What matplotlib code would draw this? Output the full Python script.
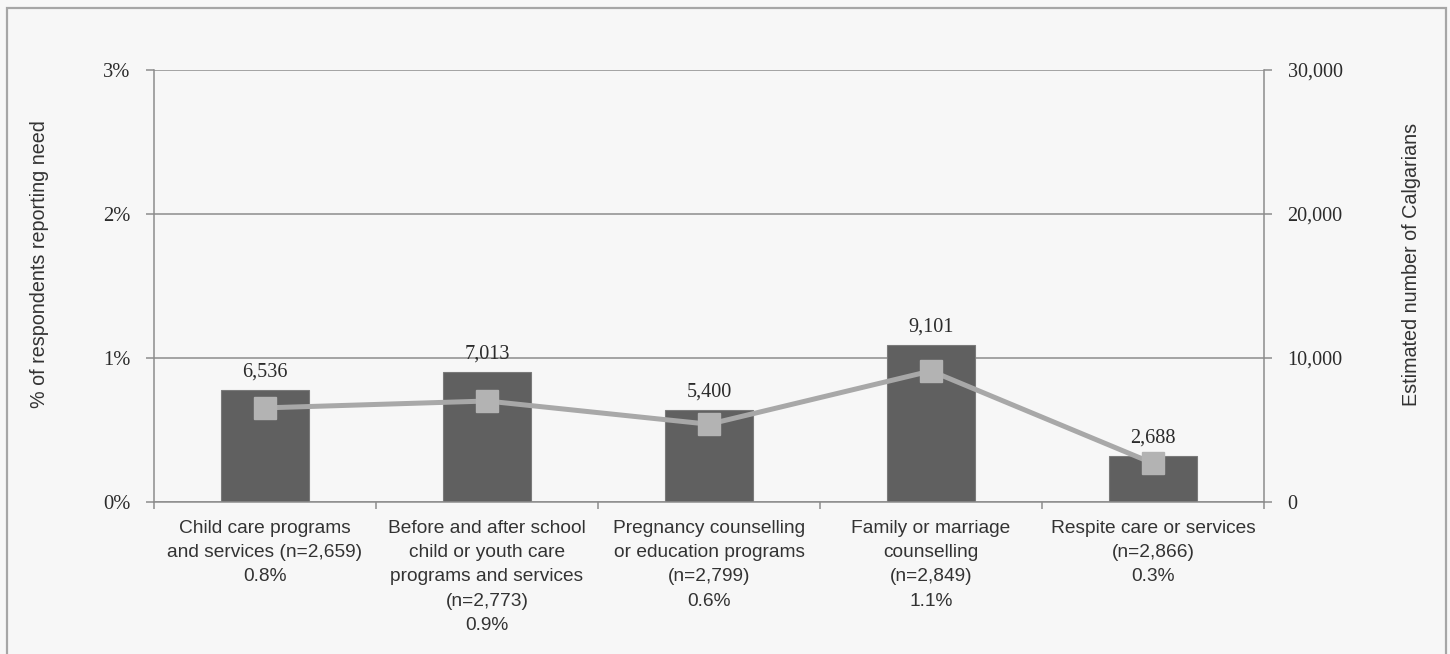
import matplotlib
matplotlib.use("Agg")
import matplotlib.pyplot as plt
import matplotlib.patches as patches
from matplotlib.ticker import FuncFormatter
import numpy as np

# categories and values
CATEGORIES = ["Child care programs\nand services",
              "Before and after school\nchild or youth care\nprograms and services",
              "Pregnancy counselling\nor education programs",
              "Family or marriage\ncounselling",
              "Respite care or services"]
SAMPLE_N = ["2,659", "2,773", "2,799", "2,849", "2,866"]
N_INLINE = [True, False, False, False, False]   # "(n=...)" on same line as name
PCT_NEED = [0.78, 0.90, 0.64, 1.09, 0.32]        # % of respondents (bars)
PCT_TEXT = ["0.8%", "0.9%", "0.6%", "1.1%", "0.3%"]
ESTIMATE = [6536, 7013, 5400, 9101, 2688]        # estimated Calgarians (line)

BG = "#f7f7f7"
AXCOL = "#8c8c8c"
TXT = "#2b2b2b"
SERIF = ["Liberation Serif", "DejaVu Serif"]
SANS = ["Liberation Sans", "DejaVu Sans"]

labels = []
for name, n, inl, p in zip(CATEGORIES, SAMPLE_N, N_INLINE, PCT_TEXT):
    if inl:
        labels.append("%s (n=%s)\n%s" % (name, n, p))
    else:
        labels.append("%s\n(n=%s)\n%s" % (name, n, p))

FIG = plt.figure(figsize=(14.5, 6.54), dpi=100, facecolor=BG)
AX = FIG.add_axes([154 / 1450, 1 - 502 / 654, 1110 / 1450, 432 / 654])
AX.set_facecolor(BG)

x = np.arange(len(CATEGORIES))
AX.bar(x, PCT_NEED, width=0.4, color="#606060", edgecolor="#7a7a7a", linewidth=0.8, zorder=2)

AX.set_xlim(-0.5, len(CATEGORIES) - 0.5)
AX.set_ylim(0, 3)
AX.set_yticks([0, 1, 2, 3])
AX.yaxis.set_major_formatter(FuncFormatter(lambda v, p: "%d%%" % v))
AX.grid(axis="y", color=AXCOL, linewidth=1.1)
AX.set_axisbelow(True)

AX.set_xticks(x)
AX.set_xticklabels(labels, family=SANS, fontsize=13.8, color="#333333", linespacing=1.55)
AX.set_xticks(np.arange(-0.5, len(CATEGORIES)), minor=True)
AX.tick_params(axis="x", which="major", length=0, pad=13)
AX.tick_params(axis="x", which="minor", length=5, width=1.1, color=AXCOL, direction="out")
AX.tick_params(axis="y", length=6, width=1.1, color=AXCOL, pad=11, labelsize=14.8, labelcolor=TXT)
for t in AX.get_yticklabels():
    t.set_family(SERIF)

for s in ["top", "right"]:
    AX.spines[s].set_visible(False)
for s in ["left", "bottom"]:
    AX.spines[s].set_color(AXCOL)
    AX.spines[s].set_linewidth(1.1)

AX.set_ylabel("% of respondents reporting need", family=SANS, fontsize=14.2, color="#333333")
AX.yaxis.set_label_coords(-0.0946, 0.551)

# estimated number on secondary axis
AX2 = AX.twinx()
AX2.plot(x, ESTIMATE, color="#a8a8a8", linewidth=3.6, marker="s", markersize=15.5,
         markerfacecolor="#b3b3b3", markeredgecolor="#b3b3b3", zorder=3)
AX2.set_ylim(0, 30000)
AX2.set_yticks([0, 10000, 20000, 30000])
AX2.yaxis.set_major_formatter(FuncFormatter(lambda v, p: "{:,.0f}".format(v)))
AX2.tick_params(axis="y", length=6, width=1.1, color=AXCOL, pad=11, labelsize=14.5, labelcolor=TXT)
for t in AX2.get_yticklabels():
    t.set_family(SERIF)
for s in ["top", "left", "bottom"]:
    AX2.spines[s].set_visible(False)
AX2.spines["right"].set_color(AXCOL)
AX2.spines["right"].set_linewidth(1.1)
AX2.set_ylabel("Estimated number of Calgarians", family=SANS, fontsize=14.2, color="#333333")
AX2.yaxis.set_label_coords(1.1245, 0.551)

# value labels above bars
for xi, p, e in zip(x, PCT_NEED, ESTIMATE):
    AX.annotate("{:,}".format(e), (xi, p), xytext=(0, 13), textcoords="offset points",
                ha="center", va="center", family=SERIF, fontsize=14.6, color=TXT, zorder=4)

# outer frame
FIG.patches.append(patches.Rectangle((7 / 1450, -0.05), 1439 / 1450, 1 - 8 / 654 + 0.05,
                                     transform=FIG.transFigure, fill=False,
                                     edgecolor="#a6a6a6", linewidth=1.6))

FIG.savefig("out.png", dpi=100, facecolor=BG)
